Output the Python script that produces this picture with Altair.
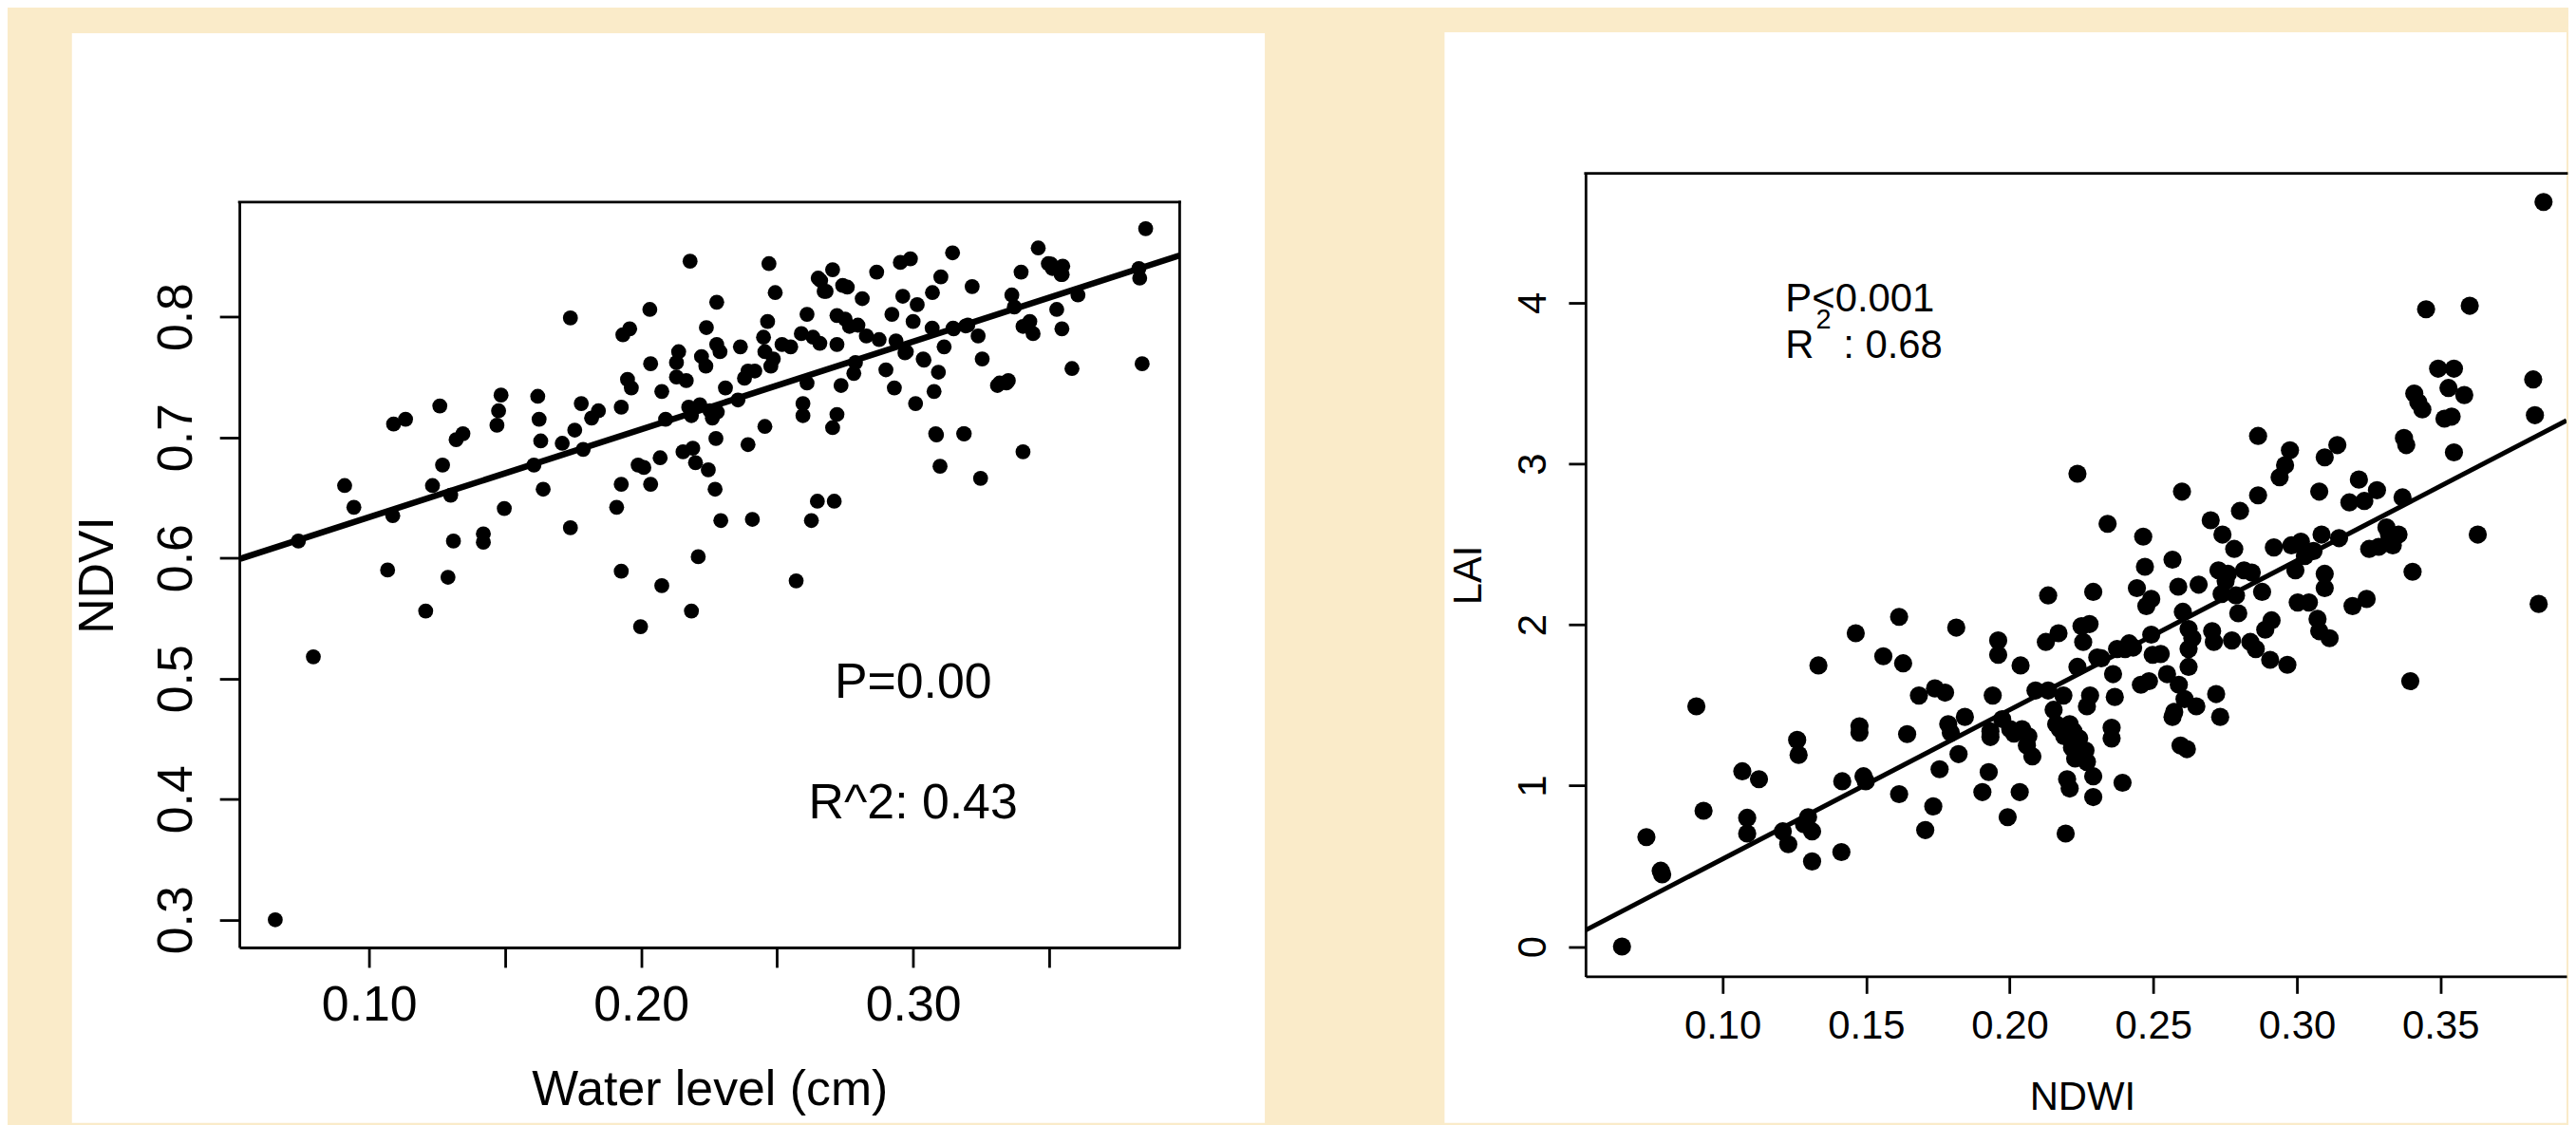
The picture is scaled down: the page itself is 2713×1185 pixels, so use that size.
import altair as alt
import pandas as pd

FONT = "Liberation Sans"
INK = "#000000"
PAPER = "#FAEBC9"

# ---------------- left panel: NDVI vs water level ----------------
water_level = [
    0.0655, 0.074, 0.0795, 0.091, 0.0944, 0.1068, 0.1087, 0.109, 0.1134, 0.1208,
    0.1233, 0.126, 0.127, 0.129, 0.130, 0.131, 0.132, 0.1345, 0.142, 0.142,
    0.1476, 0.1485, 0.1497, 0.147, 0.1606, 0.162, 0.1625, 0.1631, 0.164, 0.171,
    0.174, 0.174, 0.1756, 0.178, 0.1787, 0.1818, 0.1843, 0.1927, 0.191, 0.1927,
    0.1927, 0.1933, 0.1958, 0.195, 0.1964, 0.1989, 0.1998, 0.201, 0.2032, 0.2035,
    0.2035, 0.207, 0.2076, 0.2076, 0.209, 0.213, 0.2138, 0.213, 0.2154, 0.218,
    0.2185, 0.2175, 0.2166, 0.2185, 0.219, 0.220, 0.221, 0.2216, 0.2222, 0.224,
    0.2238, 0.2247, 0.2253, 0.2262, 0.2272, 0.2275, 0.2278, 0.2278, 0.228, 0.229,
    0.2293, 0.231, 0.2356, 0.2365, 0.238, 0.2393, 0.2393, 0.2409, 0.2418, 0.245,
    0.2455, 0.2455, 0.247, 0.2465, 0.2477, 0.2486, 0.2493, 0.2518, 0.255, 0.257,
    0.2589, 0.2595, 0.2595, 0.261, 0.261, 0.2626, 0.2632, 0.2648, 0.2651, 0.2657,
    0.2673, 0.2704, 0.2704, 0.271, 0.272, 0.272, 0.2735, 0.2741, 0.272, 0.275,
    0.2766, 0.2782, 0.2788, 0.2797, 0.2813, 0.2828, 0.2866, 0.2875, 0.290, 0.2922,
    0.2931, 0.2937, 0.2953, 0.2962, 0.2975, 0.299, 0.300, 0.3009, 0.3015, 0.3037,
    0.3071, 0.3077, 0.3083, 0.3093, 0.3099, 0.3102, 0.3114, 0.3145, 0.3149, 0.3186,
    0.3201, 0.3217, 0.3239, 0.3248, 0.3254, 0.331, 0.335, 0.3363, 0.3372, 0.3397,
    0.3404, 0.3404, 0.3429, 0.3441, 0.346, 0.3497, 0.3512, 0.3528, 0.3544, 0.3547,
    0.3550, 0.3584, 0.3606, 0.383, 0.3833, 0.3842, 0.3855, 0.3147, 0.3193, 0.307,
    0.297, 0.3507, 0.3548, 0.3318, 0.3343, 0.3188, 0.3086, 0.304, 0.266, 0.268,
    0.2758,
]
ndvi = [
    0.300, 0.614, 0.518, 0.660, 0.642, 0.590, 0.635, 0.711, 0.715, 0.556,
    0.660, 0.726, 0.677, 0.584, 0.652, 0.614, 0.698, 0.703, 0.620, 0.613,
    0.722, 0.735, 0.641, 0.710, 0.677, 0.734, 0.715, 0.697, 0.657, 0.695,
    0.799, 0.625, 0.706, 0.728, 0.690, 0.716, 0.722, 0.725, 0.642, 0.589,
    0.661, 0.785, 0.790, 0.748, 0.741, 0.677, 0.543, 0.675, 0.806, 0.761,
    0.661, 0.683, 0.738, 0.577, 0.715, 0.762, 0.771, 0.750, 0.688, 0.846,
    0.556, 0.725, 0.747, 0.718, 0.691, 0.679, 0.601, 0.727, 0.767, 0.791,
    0.759, 0.673, 0.722, 0.716, 0.657, 0.699, 0.812, 0.777, 0.721, 0.771,
    0.631, 0.741, 0.731, 0.775, 0.749, 0.755, 0.694, 0.632, 0.755, 0.783,
    0.709, 0.771, 0.844, 0.796, 0.759, 0.765, 0.820, 0.777, 0.775, 0.581,
    0.786, 0.718, 0.728, 0.802, 0.745, 0.631, 0.783, 0.647, 0.832, 0.778,
    0.821, 0.839, 0.708, 0.647, 0.719, 0.801, 0.743, 0.826, 0.777, 0.798,
    0.792, 0.753, 0.762, 0.793, 0.815, 0.784, 0.837, 0.781, 0.756, 0.802,
    0.741, 0.780, 0.845, 0.817, 0.771, 0.848, 0.796, 0.728, 0.810, 0.765,
    0.820, 0.738, 0.703, 0.754, 0.676, 0.833, 0.775, 0.853, 0.790, 0.703,
    0.793, 0.825, 0.784, 0.666, 0.765, 0.743, 0.747, 0.818, 0.808, 0.837,
    0.688, 0.792, 0.796, 0.786, 0.857, 0.844, 0.840, 0.806, 0.835, 0.790,
    0.842, 0.757, 0.818, 0.840, 0.832, 0.761, 0.873, 0.7906, 0.7924, 0.7906,
    0.770, 0.8436, 0.835, 0.745, 0.745, 0.703, 0.702, 0.764, 0.830, 0.821,
    0.8245,
]

# ---------------- right panel: LAI vs NDWI ----------------
ndwi = [
    0.065, 0.0735, 0.0785, 0.079, 0.0909, 0.0934, 0.1069, 0.1086, 0.1086, 0.1127,
    0.121, 0.1229, 0.126, 0.1265, 0.1284, 0.1298, 0.1312, 0.1312, 0.1334, 0.1414,
    0.1417, 0.1464, 0.1477, 0.1477, 0.1491, 0.1499, 0.156, 0.1615, 0.1615, 0.1629,
    0.1643, 0.1684, 0.1706, 0.1734, 0.174, 0.1756, 0.1775, 0.1786, 0.1795, 0.1814,
    0.1822, 0.1844, 0.1905, 0.1927, 0.1933, 0.1933, 0.1941, 0.196, 0.196, 0.1974,
    0.1993, 0.2002, 0.2015, 0.2035, 0.2038, 0.2043, 0.206, 0.2065, 0.2079, 0.209,
    0.2126, 0.2134, 0.2134, 0.2153, 0.2162, 0.217, 0.2175, 0.2187, 0.219, 0.2195,
    0.220, 0.2209, 0.2209, 0.2217, 0.2222, 0.2228, 0.2236, 0.2236, 0.2242, 0.225,
    0.2256, 0.2264, 0.2269, 0.2269, 0.2278, 0.228, 0.2291, 0.2291, 0.2291, 0.2305,
    0.2319, 0.2341, 0.2355, 0.2355, 0.236, 0.2366, 0.2374, 0.2393, 0.2402, 0.2416,
    0.243, 0.2443, 0.2457, 0.2465, 0.2471, 0.2476, 0.2485, 0.2493, 0.2498, 0.2493,
    0.2526, 0.2548, 0.2567, 0.2567, 0.2573, 0.2587, 0.2589, 0.2595, 0.260, 0.2603,
    0.2609, 0.2617, 0.2623, 0.2623, 0.2623, 0.2636, 0.265, 0.2658, 0.270, 0.2705,
    0.2711, 0.2719, 0.2727, 0.2733, 0.2738, 0.2741, 0.2752, 0.276, 0.2774, 0.2782,
    0.2788, 0.2796, 0.2802, 0.2816, 0.2838, 0.2843, 0.2857, 0.2865, 0.2865, 0.2879,
    0.289, 0.2907, 0.2912, 0.292, 0.294, 0.2959, 0.2967, 0.2976, 0.2981, 0.2995,
    0.3003, 0.3014, 0.3028, 0.3042, 0.3058, 0.3072, 0.3078, 0.3078, 0.3086, 0.3097,
    0.3097, 0.3097, 0.3114, 0.3141, 0.3147, 0.3183, 0.3194, 0.3216, 0.3235, 0.3243,
    0.3252, 0.3279, 0.3285, 0.3312, 0.3321, 0.3334, 0.3354, 0.3368, 0.3373, 0.3381,
    0.3395, 0.3403, 0.3409, 0.3423, 0.3437, 0.345, 0.3492, 0.3514, 0.3528, 0.3539,
    0.3547, 0.3547, 0.3583, 0.3602, 0.363, 0.3823, 0.3829, 0.3842, 0.3859,
]
lai = [
    0.0, 0.68, 0.471, 0.449, 1.493, 0.844, 1.089, 0.80, 0.702, 1.04,
    0.716, 0.636, 1.284, 1.191, 0.76, 0.804, 0.716, 0.529, 1.747, 0.587,
    1.027, 1.947, 1.369, 1.329, 1.058, 1.027, 1.804, 0.947, 2.049, 1.76,
    1.32, 1.56, 0.724, 0.871, 1.604, 1.102, 1.578, 1.382, 1.329, 1.982,
    1.196, 1.427, 0.96, 1.084, 1.302, 1.338, 1.56, 1.902, 1.813, 1.413,
    0.804, 1.351, 1.324, 0.96, 1.747, 1.351, 1.249, 1.307, 1.182, 1.591,
    1.893, 2.182, 1.591, 1.471, 1.382, 1.947, 1.351, 1.56, 1.307, 0.702,
    1.04, 0.982, 1.382, 1.236, 1.338, 1.169, 2.938, 1.738, 1.293, 1.991,
    1.893, 1.218, 1.147, 1.493, 2.004, 1.56, 2.204, 0.929, 1.058, 1.796,
    1.791, 2.627, 1.36, 1.293, 1.693, 1.551, 1.849, 1.018, 1.849, 1.884,
    1.858, 2.227, 1.627, 2.547, 2.36, 2.116, 1.649, 1.938, 1.813, 2.16,
    1.818, 1.693, 2.404, 1.427, 1.458, 2.236, 1.627, 1.249, 2.827, 2.08,
    1.538, 1.227, 1.973, 1.849, 1.738, 1.916, 1.493, 2.249, 2.649, 1.96,
    1.893, 1.569, 2.338, 1.427, 2.191, 2.56, 2.271, 2.316, 1.902, 2.471,
    2.182, 2.071, 2.707, 2.338, 1.893, 2.324, 1.849, 2.804, 3.173, 2.204,
    1.969, 1.782, 2.027, 2.48, 2.916, 2.991, 1.751, 3.084, 2.493, 2.338,
    2.138, 2.516, 2.427, 2.138, 2.458, 2.036, 2.827, 1.96, 2.56, 3.04,
    2.316, 2.227, 1.916, 3.116, 2.538, 2.76, 2.116, 2.902, 2.769, 2.16,
    2.471, 2.836, 2.484, 2.604, 2.56, 2.493, 2.56, 2.791, 3.16, 3.116,
    1.649, 2.329, 3.436, 3.382, 3.338, 3.96, 3.591, 3.28, 3.471, 3.293,
    3.591, 3.071, 3.427, 3.982, 2.56, 3.524, 3.302, 2.129, 4.627,
]

# axis domains (R default 4% padding); right plot is cut off by the picture edge
left_x_domain = [0.0523, 0.398]
left_y_domain = [0.277, 0.895]
right_x_domain = [0.0523, 0.3939]
right_y_domain = [-0.185, 4.805]

left_x_ticks = [0.10, 0.15, 0.20, 0.25, 0.30, 0.35]
left_y_ticks = [0.3, 0.4, 0.5, 0.6, 0.7, 0.8]
right_x_ticks = [0.10, 0.15, 0.20, 0.25, 0.30, 0.35]
right_y_ticks = [0, 1, 2, 3, 4]

# fitted lines (intercept, slope) as drawn by abline
left_fit = [0.561, 0.728]
right_fit = [-0.383, 9.27]

left_note_text = ["P=0.00", "R^2: 0.43"]
left_note_x = [0.30, 0.30]
left_note_y = [0.5, 0.4]

right_note_text = ["P<0.001", "R", ": 0.68"]
right_note_x = [0.1219, 0.1219, 0.142]
right_note_y = [3.944, 3.656, 3.656]
right_sup_text = ["2"]
right_sup_x = [0.1325]
right_sup_y = [3.84]

LW, LH = 994, 788
RW, RH = 1037, 849


def white_panel(x0, x1, y0, y1):
    return alt.Chart(pd.DataFrame({"p": [0]})).mark_rect(color="white").encode(
        x=alt.value(x0), x2=alt.value(x1), y=alt.value(y0), y2=alt.value(y1)
    )


def axis(values, fs, tick, lpad, title_x, title_y, vertical, fmt=None, expr=None):
    kw = dict(
        values=values, labelFontSize=fs, labelFont=FONT, labelColor=INK,
        labelBaseline="alphabetic", labelPadding=lpad, labelFlush=False,
        labelOverlap=False, tickSize=tick, tickWidth=2.8, tickColor=INK,
        domainColor=INK, domainWidth=2.8, grid=False, titleFontSize=fs,
        titleFont=FONT, titleFontWeight="normal", titleColor=INK,
        titleX=title_x, titleY=title_y, titleBaseline="alphabetic",
        titleAlign="center", zindex=1,
    )
    if vertical:
        kw.update(labelAngle=270, labelAlign="center", titleAngle=270)
    else:
        kw.update(labelAlign="center")
    if fmt:
        kw["format"] = fmt
    if expr:
        kw["labelExpr"] = expr
    return alt.Axis(**kw)


def build(px, py, xdom, ydom, xaxis, yaxis, xtitle, ytitle, size, fit, lw):
    xs = alt.Scale(domain=xdom, nice=False, zero=False)
    ys = alt.Scale(domain=ydom, nice=False, zero=False)
    pts = alt.Chart(pd.DataFrame({"x": px, "y": py})).mark_circle(
        size=size, color=INK, opacity=1
    ).encode(
        x=alt.X("x:Q", scale=xs, axis=xaxis, title=xtitle),
        y=alt.Y("y:Q", scale=ys, axis=yaxis, title=ytitle),
    )
    line = alt.Chart(pd.DataFrame({"x": xdom})).transform_calculate(
        y=f"{fit[0]} + {fit[1]} * datum.x"
    ).mark_line(color=INK, strokeWidth=lw, clip=True).encode(
        x=alt.X("x:Q", scale=xs), y=alt.Y("y:Q", scale=ys)
    )
    top = alt.Chart(pd.DataFrame({"x": [xdom[0]], "x2": [xdom[1]], "y": [ydom[1]]})).mark_rule(
        color=INK, strokeWidth=2.8, strokeCap="square"
    ).encode(x=alt.X("x:Q", scale=xs), x2="x2:Q", y=alt.Y("y:Q", scale=ys))
    return xs, ys, pts, line, top


# ---------- left chart ----------
lxs, lys, lpts, lline, ltop = build(
    water_level, ndvi, left_x_domain, left_y_domain,
    axis(left_x_ticks, 52, 21, 56, LW / 2, 166, False,
         expr="round(datum.value*100) % 10 == 0 ? format(datum.value, '.2f') : ''"),
    axis(left_y_ticks, 52, 21, 30, -134, LH / 2, True, fmt=".1f"),
    "Water level (cm)", "NDVI", 250, left_fit, 6.5,
)
lright = alt.Chart(pd.DataFrame({"x": [left_x_domain[1]], "y": [left_y_domain[0]], "y2": [left_y_domain[1]]})).mark_rule(
    color=INK, strokeWidth=2.8, strokeCap="square"
).encode(x=alt.X("x:Q", scale=lxs), y=alt.Y("y:Q", scale=lys), y2="y2:Q")
lnotes = alt.Chart(pd.DataFrame({"x": left_note_x, "y": left_note_y, "t": left_note_text})).mark_text(
    font=FONT, fontSize=52, align="center", baseline="middle", dy=4, color=INK
).encode(x=alt.X("x:Q", scale=lxs), y=alt.Y("y:Q", scale=lys), text="t:N")

left = alt.layer(
    white_panel(-177, 1084, -178.5, 973.5), lpts, lline, lnotes, ltop, lright
).properties(width=LW, height=LH)

# ---------- right chart ----------
rxs, rys, rpts, rline, rtop = build(
    ndwi, lai, right_x_domain, right_y_domain,
    axis(right_x_ticks, 42, 18, 47, 525, 141, False, fmt=".2f"),
    axis(right_y_ticks, 42, 18, 24.5, -110.5, RH / 2, True, fmt="d"),
    "NDWI", "LAI", 370, right_fit, 5,
)
rnotes = alt.Chart(pd.DataFrame({"x": right_note_x, "y": right_note_y, "t": right_note_text})).mark_text(
    font=FONT, fontSize=42, align="left", baseline="alphabetic", color=INK
).encode(x=alt.X("x:Q", scale=rxs), y=alt.Y("y:Q", scale=rys), text="t:N")
rsup = alt.Chart(pd.DataFrame({"x": right_sup_x, "y": right_sup_y, "t": right_sup_text})).mark_text(
    font=FONT, fontSize=29, align="left", baseline="alphabetic", color=INK
).encode(x=alt.X("x:Q", scale=rxs), y=alt.Y("y:Q", scale=rys), text="t:N")

right = alt.layer(
    white_panel(-149, RW, -149, 1004), rpts, rline, rnotes, rsup, rtop
).properties(width=RW, height=RH)

chart = alt.hconcat(left, right, spacing=429, bounds="flush", center=True).properties(
    background=PAPER, padding={"left": 68, "top": 24, "right": 0, "bottom": 0}
).configure_view(strokeWidth=0)

chart.save("out.html", embed_options={"renderer": "svg", "actions": False})
